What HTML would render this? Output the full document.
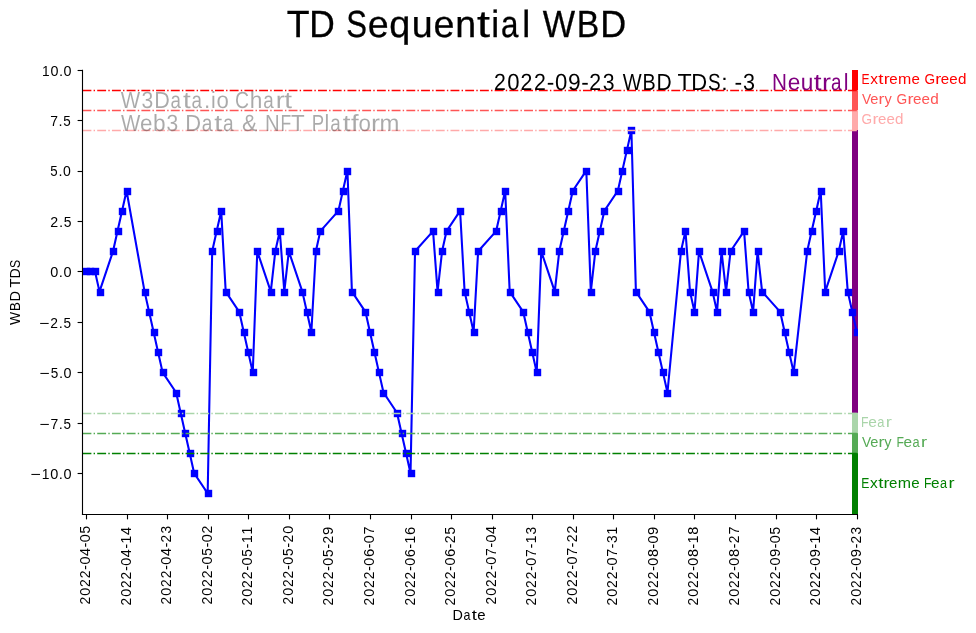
<!DOCTYPE html><html><head><meta charset="utf-8"><style>html,body{margin:0;padding:0;background:#fff}svg{display:block;will-change:transform}text{font-family:"Liberation Sans",sans-serif}.g{text-rendering:geometricPrecision}</style></head><body>
<svg width="976" height="633" viewBox="0 0 976 633">
<rect width="976" height="633" fill="#fff"/>
<text class="g" transform="translate(286.86,37) scale(0.987,1)" font-size="37.8" fill="#000" stroke="#000" stroke-width="0.3">T</text>
<text class="g" transform="translate(309.14,37) scale(0.936,1)" font-size="37.8" fill="#000" stroke="#000" stroke-width="0.3">D</text>
<text class="g" transform="translate(346.29,37) scale(0.822,1)" font-size="37.8" fill="#000" stroke="#000" stroke-width="0.3">S</text>
<text class="g" transform="translate(367.86,37) scale(0.996,1)" font-size="37.8" fill="#000" stroke="#000" stroke-width="0.3">e</text>
<text class="g" transform="translate(389.32,37) scale(1.001,1)" font-size="37.8" fill="#000" stroke="#000" stroke-width="0.3">q</text>
<text class="g" transform="translate(411.64,37) scale(0.994,1)" font-size="37.8" fill="#000" stroke="#000" stroke-width="0.3">u</text>
<text class="g" transform="translate(433.54,37) scale(0.996,1)" font-size="37.8" fill="#000" stroke="#000" stroke-width="0.3">e</text>
<text class="g" transform="translate(455.33,37) scale(0.994,1)" font-size="37.8" fill="#000" stroke="#000" stroke-width="0.3">n</text>
<text class="g" transform="translate(476.99,37) scale(1.233,1)" font-size="37.8" fill="#000" stroke="#000" stroke-width="0.3">t</text>
<text class="g" transform="translate(491.33,37) scale(0.943,1)" font-size="37.8" fill="#000" stroke="#000" stroke-width="0.3">i</text>
<text class="g" transform="translate(500.88,37) scale(0.829,1)" font-size="37.8" fill="#000" stroke="#000" stroke-width="0.3">a</text>
<text class="g" transform="translate(522.37,37) scale(0.943,1)" font-size="37.8" fill="#000" stroke="#000" stroke-width="0.3">l</text>
<text class="g" transform="translate(542.65,37) scale(0.906,1)" font-size="37.8" fill="#000" stroke="#000" stroke-width="0.3">W</text>
<text class="g" transform="translate(576.63,37) scale(0.893,1)" font-size="37.8" fill="#000" stroke="#000" stroke-width="0.3">B</text>
<text class="g" transform="translate(600.27,37) scale(0.951,1)" font-size="37.8" fill="#000" stroke="#000" stroke-width="0.3">D</text>
<rect x="852" y="70.00" width="6" height="20.40" fill="#ff0000"/>
<rect x="852" y="90.40" width="6" height="20.00" fill="#ff5555"/>
<rect x="852" y="110.40" width="6" height="19.60" fill="#ffaaaa"/>
<rect x="852" y="130.00" width="6" height="282.90" fill="#800080"/>
<rect x="852" y="412.90" width="6" height="20.20" fill="#aad5aa"/>
<rect x="852" y="433.10" width="6" height="20.00" fill="#55aa55"/>
<rect x="852" y="453.10" width="6" height="60.90" fill="#008000"/>
<defs><clipPath id="ax"><rect x="82.5" y="70.0" width="775.5" height="444.5"/></clipPath></defs>
<g clip-path="url(#ax)"><polyline points="85.98,271.46 90.49,271.46 95.00,271.46 99.50,291.64 113.03,251.28 117.53,231.10 122.04,210.92 126.55,190.74 144.58,291.64 149.09,311.82 153.59,332.00 158.10,352.18 162.61,372.36 176.13,392.54 180.64,412.72 185.15,432.90 189.65,453.08 194.16,473.26 207.68,493.44 212.19,251.28 216.70,231.10 221.21,210.92 225.71,291.64 239.24,311.82 243.74,332.00 248.25,352.18 252.76,372.36 257.27,251.28 270.79,291.64 275.30,251.28 279.80,231.10 284.31,291.64 288.82,251.28 302.34,291.64 306.85,311.82 311.36,332.00 315.86,251.28 320.37,231.10 338.40,210.92 342.91,190.74 347.42,170.56 351.92,291.64 365.45,311.82 369.95,332.00 374.46,352.18 378.97,372.36 383.48,392.54 397.00,412.72 401.51,432.90 406.01,453.08 410.52,473.26 415.03,251.28 433.06,231.10 437.57,291.64 442.07,251.28 446.58,231.10 460.10,210.92 464.61,291.64 469.12,311.82 473.63,332.00 478.13,251.28 496.16,231.10 500.67,210.92 505.18,190.74 509.69,291.64 523.21,311.82 527.72,332.00 532.22,352.18 536.73,372.36 541.24,251.28 554.76,291.64 559.27,251.28 563.78,231.10 568.28,210.92 572.79,190.74 586.31,170.56 590.82,291.64 595.33,251.28 599.84,231.10 604.34,210.92 617.87,190.74 622.37,170.56 626.88,150.38 631.39,130.20 635.90,291.64 649.42,311.82 653.93,332.00 658.43,352.18 662.94,372.36 667.45,392.54 680.97,251.28 685.48,231.10 689.99,291.64 694.49,311.82 699.00,251.28 712.52,291.64 717.03,311.82 721.54,251.28 726.05,291.64 730.55,251.28 744.08,231.10 748.58,291.64 753.09,311.82 757.60,251.28 762.11,291.64 780.14,311.82 784.64,332.00 789.15,352.18 793.66,372.36 807.18,251.28 811.69,231.10 816.20,210.92 820.70,190.74 825.21,291.64 838.73,251.28 843.24,231.10 847.75,291.64 852.26,311.82 856.76,332.00" fill="none" stroke="#0000ff" stroke-width="2.08" stroke-linejoin="round"/>
<rect x="82.80" y="267.80" width="7.4" height="7.4" fill="#0000ff"/>
<rect x="86.80" y="267.80" width="7.4" height="7.4" fill="#0000ff"/>
<rect x="91.80" y="267.80" width="7.4" height="7.4" fill="#0000ff"/>
<rect x="96.80" y="288.80" width="7.4" height="7.4" fill="#0000ff"/>
<rect x="109.80" y="247.80" width="7.4" height="7.4" fill="#0000ff"/>
<rect x="114.80" y="227.80" width="7.4" height="7.4" fill="#0000ff"/>
<rect x="118.80" y="207.80" width="7.4" height="7.4" fill="#0000ff"/>
<rect x="123.80" y="187.80" width="7.4" height="7.4" fill="#0000ff"/>
<rect x="141.80" y="288.80" width="7.4" height="7.4" fill="#0000ff"/>
<rect x="145.80" y="308.80" width="7.4" height="7.4" fill="#0000ff"/>
<rect x="150.80" y="328.80" width="7.4" height="7.4" fill="#0000ff"/>
<rect x="154.80" y="348.80" width="7.4" height="7.4" fill="#0000ff"/>
<rect x="159.80" y="368.80" width="7.4" height="7.4" fill="#0000ff"/>
<rect x="172.80" y="389.80" width="7.4" height="7.4" fill="#0000ff"/>
<rect x="177.80" y="409.80" width="7.4" height="7.4" fill="#0000ff"/>
<rect x="181.80" y="429.80" width="7.4" height="7.4" fill="#0000ff"/>
<rect x="186.80" y="449.80" width="7.4" height="7.4" fill="#0000ff"/>
<rect x="190.80" y="469.80" width="7.4" height="7.4" fill="#0000ff"/>
<rect x="204.80" y="489.80" width="7.4" height="7.4" fill="#0000ff"/>
<rect x="208.80" y="247.80" width="7.4" height="7.4" fill="#0000ff"/>
<rect x="213.80" y="227.80" width="7.4" height="7.4" fill="#0000ff"/>
<rect x="217.80" y="207.80" width="7.4" height="7.4" fill="#0000ff"/>
<rect x="222.80" y="288.80" width="7.4" height="7.4" fill="#0000ff"/>
<rect x="235.80" y="308.80" width="7.4" height="7.4" fill="#0000ff"/>
<rect x="240.80" y="328.80" width="7.4" height="7.4" fill="#0000ff"/>
<rect x="244.80" y="348.80" width="7.4" height="7.4" fill="#0000ff"/>
<rect x="249.80" y="368.80" width="7.4" height="7.4" fill="#0000ff"/>
<rect x="253.80" y="247.80" width="7.4" height="7.4" fill="#0000ff"/>
<rect x="267.80" y="288.80" width="7.4" height="7.4" fill="#0000ff"/>
<rect x="271.80" y="247.80" width="7.4" height="7.4" fill="#0000ff"/>
<rect x="276.80" y="227.80" width="7.4" height="7.4" fill="#0000ff"/>
<rect x="280.80" y="288.80" width="7.4" height="7.4" fill="#0000ff"/>
<rect x="285.80" y="247.80" width="7.4" height="7.4" fill="#0000ff"/>
<rect x="298.80" y="288.80" width="7.4" height="7.4" fill="#0000ff"/>
<rect x="303.80" y="308.80" width="7.4" height="7.4" fill="#0000ff"/>
<rect x="307.80" y="328.80" width="7.4" height="7.4" fill="#0000ff"/>
<rect x="312.80" y="247.80" width="7.4" height="7.4" fill="#0000ff"/>
<rect x="316.80" y="227.80" width="7.4" height="7.4" fill="#0000ff"/>
<rect x="334.80" y="207.80" width="7.4" height="7.4" fill="#0000ff"/>
<rect x="339.80" y="187.80" width="7.4" height="7.4" fill="#0000ff"/>
<rect x="343.80" y="167.80" width="7.4" height="7.4" fill="#0000ff"/>
<rect x="348.80" y="288.80" width="7.4" height="7.4" fill="#0000ff"/>
<rect x="361.80" y="308.80" width="7.4" height="7.4" fill="#0000ff"/>
<rect x="366.80" y="328.80" width="7.4" height="7.4" fill="#0000ff"/>
<rect x="370.80" y="348.80" width="7.4" height="7.4" fill="#0000ff"/>
<rect x="375.80" y="368.80" width="7.4" height="7.4" fill="#0000ff"/>
<rect x="379.80" y="389.80" width="7.4" height="7.4" fill="#0000ff"/>
<rect x="393.80" y="409.80" width="7.4" height="7.4" fill="#0000ff"/>
<rect x="398.80" y="429.80" width="7.4" height="7.4" fill="#0000ff"/>
<rect x="402.80" y="449.80" width="7.4" height="7.4" fill="#0000ff"/>
<rect x="407.80" y="469.80" width="7.4" height="7.4" fill="#0000ff"/>
<rect x="411.80" y="247.80" width="7.4" height="7.4" fill="#0000ff"/>
<rect x="429.80" y="227.80" width="7.4" height="7.4" fill="#0000ff"/>
<rect x="434.80" y="288.80" width="7.4" height="7.4" fill="#0000ff"/>
<rect x="438.80" y="247.80" width="7.4" height="7.4" fill="#0000ff"/>
<rect x="443.80" y="227.80" width="7.4" height="7.4" fill="#0000ff"/>
<rect x="456.80" y="207.80" width="7.4" height="7.4" fill="#0000ff"/>
<rect x="461.80" y="288.80" width="7.4" height="7.4" fill="#0000ff"/>
<rect x="465.80" y="308.80" width="7.4" height="7.4" fill="#0000ff"/>
<rect x="470.80" y="328.80" width="7.4" height="7.4" fill="#0000ff"/>
<rect x="474.80" y="247.80" width="7.4" height="7.4" fill="#0000ff"/>
<rect x="492.80" y="227.80" width="7.4" height="7.4" fill="#0000ff"/>
<rect x="497.80" y="207.80" width="7.4" height="7.4" fill="#0000ff"/>
<rect x="501.80" y="187.80" width="7.4" height="7.4" fill="#0000ff"/>
<rect x="506.80" y="288.80" width="7.4" height="7.4" fill="#0000ff"/>
<rect x="519.80" y="308.80" width="7.4" height="7.4" fill="#0000ff"/>
<rect x="524.80" y="328.80" width="7.4" height="7.4" fill="#0000ff"/>
<rect x="528.80" y="348.80" width="7.4" height="7.4" fill="#0000ff"/>
<rect x="533.80" y="368.80" width="7.4" height="7.4" fill="#0000ff"/>
<rect x="537.80" y="247.80" width="7.4" height="7.4" fill="#0000ff"/>
<rect x="551.80" y="288.80" width="7.4" height="7.4" fill="#0000ff"/>
<rect x="555.80" y="247.80" width="7.4" height="7.4" fill="#0000ff"/>
<rect x="560.80" y="227.80" width="7.4" height="7.4" fill="#0000ff"/>
<rect x="564.80" y="207.80" width="7.4" height="7.4" fill="#0000ff"/>
<rect x="569.80" y="187.80" width="7.4" height="7.4" fill="#0000ff"/>
<rect x="582.80" y="167.80" width="7.4" height="7.4" fill="#0000ff"/>
<rect x="587.80" y="288.80" width="7.4" height="7.4" fill="#0000ff"/>
<rect x="591.80" y="247.80" width="7.4" height="7.4" fill="#0000ff"/>
<rect x="596.80" y="227.80" width="7.4" height="7.4" fill="#0000ff"/>
<rect x="600.80" y="207.80" width="7.4" height="7.4" fill="#0000ff"/>
<rect x="614.80" y="187.80" width="7.4" height="7.4" fill="#0000ff"/>
<rect x="618.80" y="167.80" width="7.4" height="7.4" fill="#0000ff"/>
<rect x="623.80" y="146.80" width="7.4" height="7.4" fill="#0000ff"/>
<rect x="627.80" y="126.80" width="7.4" height="7.4" fill="#0000ff"/>
<rect x="632.80" y="288.80" width="7.4" height="7.4" fill="#0000ff"/>
<rect x="645.80" y="308.80" width="7.4" height="7.4" fill="#0000ff"/>
<rect x="650.80" y="328.80" width="7.4" height="7.4" fill="#0000ff"/>
<rect x="654.80" y="348.80" width="7.4" height="7.4" fill="#0000ff"/>
<rect x="659.80" y="368.80" width="7.4" height="7.4" fill="#0000ff"/>
<rect x="663.80" y="389.80" width="7.4" height="7.4" fill="#0000ff"/>
<rect x="677.80" y="247.80" width="7.4" height="7.4" fill="#0000ff"/>
<rect x="681.80" y="227.80" width="7.4" height="7.4" fill="#0000ff"/>
<rect x="686.80" y="288.80" width="7.4" height="7.4" fill="#0000ff"/>
<rect x="690.80" y="308.80" width="7.4" height="7.4" fill="#0000ff"/>
<rect x="695.80" y="247.80" width="7.4" height="7.4" fill="#0000ff"/>
<rect x="709.80" y="288.80" width="7.4" height="7.4" fill="#0000ff"/>
<rect x="713.80" y="308.80" width="7.4" height="7.4" fill="#0000ff"/>
<rect x="718.80" y="247.80" width="7.4" height="7.4" fill="#0000ff"/>
<rect x="722.80" y="288.80" width="7.4" height="7.4" fill="#0000ff"/>
<rect x="727.80" y="247.80" width="7.4" height="7.4" fill="#0000ff"/>
<rect x="740.80" y="227.80" width="7.4" height="7.4" fill="#0000ff"/>
<rect x="745.80" y="288.80" width="7.4" height="7.4" fill="#0000ff"/>
<rect x="749.80" y="308.80" width="7.4" height="7.4" fill="#0000ff"/>
<rect x="754.80" y="247.80" width="7.4" height="7.4" fill="#0000ff"/>
<rect x="758.80" y="288.80" width="7.4" height="7.4" fill="#0000ff"/>
<rect x="776.80" y="308.80" width="7.4" height="7.4" fill="#0000ff"/>
<rect x="781.80" y="328.80" width="7.4" height="7.4" fill="#0000ff"/>
<rect x="785.80" y="348.80" width="7.4" height="7.4" fill="#0000ff"/>
<rect x="790.80" y="368.80" width="7.4" height="7.4" fill="#0000ff"/>
<rect x="803.80" y="247.80" width="7.4" height="7.4" fill="#0000ff"/>
<rect x="808.80" y="227.80" width="7.4" height="7.4" fill="#0000ff"/>
<rect x="812.80" y="207.80" width="7.4" height="7.4" fill="#0000ff"/>
<rect x="817.80" y="187.80" width="7.4" height="7.4" fill="#0000ff"/>
<rect x="821.80" y="288.80" width="7.4" height="7.4" fill="#0000ff"/>
<rect x="835.80" y="247.80" width="7.4" height="7.4" fill="#0000ff"/>
<rect x="839.80" y="227.80" width="7.4" height="7.4" fill="#0000ff"/>
<rect x="844.80" y="288.80" width="7.4" height="7.4" fill="#0000ff"/>
<rect x="848.80" y="308.80" width="7.4" height="7.4" fill="#0000ff"/>
<rect x="853.80" y="328.80" width="7.4" height="7.4" fill="#0000ff"/>
</g>
<line x1="82.5" x2="858.0" y1="90.50" y2="90.50" stroke="#ff0000" stroke-width="1.39" stroke-dasharray="8.89 2.22 1.39 2.22"/>
<line x1="82.5" x2="858.0" y1="110.50" y2="110.50" stroke="#ff5555" stroke-width="1.39" stroke-dasharray="8.89 2.22 1.39 2.22"/>
<line x1="82.5" x2="858.0" y1="130.50" y2="130.50" stroke="#ffaaaa" stroke-width="1.39" stroke-dasharray="8.89 2.22 1.39 2.22"/>
<line x1="82.5" x2="858.0" y1="413.50" y2="413.50" stroke="#aad5aa" stroke-width="1.39" stroke-dasharray="8.89 2.22 1.39 2.22"/>
<line x1="82.5" x2="858.0" y1="433.50" y2="433.50" stroke="#55aa55" stroke-width="1.39" stroke-dasharray="8.89 2.22 1.39 2.22"/>
<line x1="82.5" x2="858.0" y1="453.50" y2="453.50" stroke="#008000" stroke-width="1.39" stroke-dasharray="8.89 2.22 1.39 2.22"/>
<text class="g" transform="translate(120.71,108) scale(0.879,1)" font-size="23.4" fill="#000" fill-opacity="0.333">W</text>
<text class="g" transform="translate(141.53,108) scale(0.903,1)" font-size="23.4" fill="#000" fill-opacity="0.333">3</text>
<text class="g" transform="translate(154.29,108) scale(0.923,1)" font-size="23.4" fill="#000" fill-opacity="0.333">D</text>
<text class="g" transform="translate(170.54,108) scale(0.802,1)" font-size="23.4" fill="#000" fill-opacity="0.333">a</text>
<text class="g" transform="translate(183.01,108) scale(1.192,1)" font-size="23.4" fill="#000" fill-opacity="0.333">t</text>
<text class="g" transform="translate(191.51,108) scale(0.802,1)" font-size="23.4" fill="#000" fill-opacity="0.333">a</text>
<text class="g" transform="translate(204.01,108) scale(0.965,1)" font-size="23.4" fill="#000" fill-opacity="0.333">.</text>
<text class="g" transform="translate(211.02,108) scale(0.912,1)" font-size="23.4" fill="#000" fill-opacity="0.333">i</text>
<text class="g" transform="translate(216.49,108) scale(0.948,1)" font-size="23.4" fill="#000" fill-opacity="0.333">o</text>
<text class="g" transform="translate(235.11,108) scale(0.830,1)" font-size="23.4" fill="#000" fill-opacity="0.333">C</text>
<text class="g" transform="translate(249.85,108) scale(0.970,1)" font-size="23.4" fill="#000" fill-opacity="0.333">h</text>
<text class="g" transform="translate(263.24,108) scale(0.804,1)" font-size="23.4" fill="#000" fill-opacity="0.333">a</text>
<text class="g" transform="translate(275.72,108) scale(1.145,1)" font-size="23.4" fill="#000" fill-opacity="0.333">r</text>
<text class="g" transform="translate(284.34,108) scale(1.195,1)" font-size="23.4" fill="#000" fill-opacity="0.333">t</text>
<text class="g" transform="translate(121.01,131) scale(0.876,1)" font-size="23.4" fill="#000" fill-opacity="0.333">W</text>
<text class="g" transform="translate(139.94,131) scale(0.960,1)" font-size="23.4" fill="#000" fill-opacity="0.333">e</text>
<text class="g" transform="translate(152.97,131) scale(0.967,1)" font-size="23.4" fill="#000" fill-opacity="0.333">b</text>
<text class="g" transform="translate(166.52,131) scale(0.899,1)" font-size="23.4" fill="#000" fill-opacity="0.333">3</text>
<text class="g" transform="translate(185.20,131) scale(0.937,1)" font-size="23.4" fill="#000" fill-opacity="0.333">D</text>
<text class="g" transform="translate(201.70,131) scale(0.814,1)" font-size="23.4" fill="#000" fill-opacity="0.333">a</text>
<text class="g" transform="translate(214.37,131) scale(1.211,1)" font-size="23.4" fill="#000" fill-opacity="0.333">t</text>
<text class="g" transform="translate(223.00,131) scale(0.814,1)" font-size="23.4" fill="#000" fill-opacity="0.333">a</text>
<text class="g" transform="translate(242.00,131) scale(0.978,1)" font-size="23.4" fill="#000" fill-opacity="0.333">&amp;</text>
<text class="g" transform="translate(265.04,131) scale(0.867,1)" font-size="23.4" fill="#000" fill-opacity="0.333">N</text>
<text class="g" transform="translate(280.62,131) scale(0.752,1)" font-size="23.4" fill="#000" fill-opacity="0.333">F</text>
<text class="g" transform="translate(290.93,131) scale(0.957,1)" font-size="23.4" fill="#000" fill-opacity="0.333">T</text>
<text class="g" transform="translate(311.78,131) scale(0.793,1)" font-size="23.4" fill="#000" fill-opacity="0.333">P</text>
<text class="g" transform="translate(324.42,131) scale(0.916,1)" font-size="23.4" fill="#000" fill-opacity="0.333">l</text>
<text class="g" transform="translate(330.17,131) scale(0.806,1)" font-size="23.4" fill="#000" fill-opacity="0.333">a</text>
<text class="g" transform="translate(342.70,131) scale(1.198,1)" font-size="23.4" fill="#000" fill-opacity="0.333">t</text>
<text class="g" transform="translate(350.88,131) scale(1.177,1)" font-size="23.4" fill="#000" fill-opacity="0.333">f</text>
<text class="g" transform="translate(358.39,131) scale(0.953,1)" font-size="23.4" fill="#000" fill-opacity="0.333">o</text>
<text class="g" transform="translate(371.12,131) scale(1.148,1)" font-size="23.4" fill="#000" fill-opacity="0.333">r</text>
<text class="g" transform="translate(379.57,131) scale(1.021,1)" font-size="23.4" fill="#000" fill-opacity="0.333">m</text>
<text class="g" transform="translate(493.93,90) scale(0.911,1)" font-size="23.4" fill="#000">2</text>
<text class="g" transform="translate(507.33,90) scale(0.945,1)" font-size="23.4" fill="#000">0</text>
<text class="g" transform="translate(520.62,90) scale(0.911,1)" font-size="23.4" fill="#000">2</text>
<text class="g" transform="translate(533.97,90) scale(0.911,1)" font-size="23.4" fill="#000">2</text>
<text class="g" transform="translate(546.87,90) scale(0.966,1)" font-size="23.4" fill="#000">-</text>
<text class="g" transform="translate(554.94,90) scale(0.945,1)" font-size="23.4" fill="#000">0</text>
<text class="g" transform="translate(568.02,90) scale(0.976,1)" font-size="23.4" fill="#000">9</text>
<text class="g" transform="translate(581.14,90) scale(0.966,1)" font-size="23.4" fill="#000">-</text>
<text class="g" transform="translate(589.15,90) scale(0.911,1)" font-size="23.4" fill="#000">2</text>
<text class="g" transform="translate(602.82,90) scale(0.908,1)" font-size="23.4" fill="#000">3</text>
<text class="g" transform="translate(622.71,90) scale(0.856,1)" font-size="23.4" fill="#000">W</text>
<text class="g" transform="translate(642.59,90) scale(0.844,1)" font-size="23.4" fill="#000">B</text>
<text class="g" transform="translate(656.42,90) scale(0.898,1)" font-size="23.4" fill="#000">D</text>
<text class="g" transform="translate(677.48,90) scale(0.991,1)" font-size="23.4" fill="#000">T</text>
<text class="g" transform="translate(691.33,90) scale(0.940,1)" font-size="23.4" fill="#000">D</text>
<text class="g" transform="translate(707.96,90) scale(0.810,1)" font-size="23.4" fill="#000">S</text>
<text class="g" transform="translate(721.31,90) scale(0.983,1)" font-size="23.4" fill="#000">:</text>
<text class="g" transform="translate(734.58,90) scale(0.982,1)" font-size="23.4" fill="#000">-</text>
<text class="g" transform="translate(743.05,90) scale(0.922,1)" font-size="23.4" fill="#000">3</text>
<text class="g" transform="translate(772.10,90) scale(0.885,1)" font-size="23.4" fill="#800080">N</text>
<text class="g" transform="translate(787.63,90) scale(0.968,1)" font-size="23.4" fill="#800080">e</text>
<text class="g" transform="translate(800.65,90) scale(0.967,1)" font-size="23.4" fill="#800080">u</text>
<text class="g" transform="translate(813.77,90) scale(1.198,1)" font-size="23.4" fill="#800080">t</text>
<text class="g" transform="translate(821.98,90) scale(1.149,1)" font-size="23.4" fill="#800080">r</text>
<text class="g" transform="translate(830.94,90) scale(0.806,1)" font-size="23.4" fill="#800080">a</text>
<text class="g" transform="translate(843.87,90) scale(0.916,1)" font-size="23.4" fill="#800080">l</text>
<text transform="translate(861.51,84) scale(0.829,1)" font-size="14.6" fill="#ff0000">E</text>
<text transform="translate(870.19,84) scale(1.062,1)" font-size="14.6" fill="#ff0000">x</text>
<text transform="translate(878.32,84) scale(1.279,1)" font-size="14.6" fill="#ff0000">t</text>
<text transform="translate(883.78,84) scale(1.226,1)" font-size="14.6" fill="#ff0000">r</text>
<text transform="translate(889.27,84) scale(1.034,1)" font-size="14.6" fill="#ff0000">e</text>
<text transform="translate(897.95,84) scale(1.090,1)" font-size="14.6" fill="#ff0000">m</text>
<text transform="translate(911.48,84) scale(1.034,1)" font-size="14.6" fill="#ff0000">e</text>
<text transform="translate(924.41,84) scale(0.934,1)" font-size="14.6" fill="#ff0000">G</text>
<text transform="translate(935.23,84) scale(1.227,1)" font-size="14.6" fill="#ff0000">r</text>
<text transform="translate(940.72,84) scale(1.034,1)" font-size="14.6" fill="#ff0000">e</text>
<text transform="translate(949.32,84) scale(1.034,1)" font-size="14.6" fill="#ff0000">e</text>
<text transform="translate(957.93,84) scale(1.041,1)" font-size="14.6" fill="#ff0000">d</text>
<text transform="translate(862.04,104) scale(0.941,1)" font-size="14.6" fill="#ff5555">V</text>
<text transform="translate(870.33,104) scale(1.001,1)" font-size="14.6" fill="#ff5555">e</text>
<text transform="translate(878.61,104) scale(1.188,1)" font-size="14.6" fill="#ff5555">r</text>
<text transform="translate(884.46,104) scale(0.996,1)" font-size="14.6" fill="#ff5555">y</text>
<text transform="translate(896.51,104) scale(0.941,1)" font-size="14.6" fill="#ff5555">G</text>
<text transform="translate(907.41,104) scale(1.236,1)" font-size="14.6" fill="#ff5555">r</text>
<text transform="translate(912.94,104) scale(1.042,1)" font-size="14.6" fill="#ff5555">e</text>
<text transform="translate(921.60,104) scale(1.042,1)" font-size="14.6" fill="#ff5555">e</text>
<text transform="translate(930.27,104) scale(1.049,1)" font-size="14.6" fill="#ff5555">d</text>
<text transform="translate(861.62,124) scale(0.932,1)" font-size="14.6" fill="#ffaaaa">G</text>
<text transform="translate(872.40,124) scale(1.224,1)" font-size="14.6" fill="#ffaaaa">r</text>
<text transform="translate(877.88,124) scale(1.032,1)" font-size="14.6" fill="#ffaaaa">e</text>
<text transform="translate(886.46,124) scale(1.032,1)" font-size="14.6" fill="#ffaaaa">e</text>
<text transform="translate(895.05,124) scale(1.038,1)" font-size="14.6" fill="#ffaaaa">d</text>
<text transform="translate(860.99,427) scale(0.843,1)" font-size="14.6" fill="#aad5aa">F</text>
<text transform="translate(868.20,427) scale(1.062,1)" font-size="14.6" fill="#aad5aa">e</text>
<text transform="translate(877.21,427) scale(0.884,1)" font-size="14.6" fill="#aad5aa">a</text>
<text transform="translate(885.78,427) scale(1.260,1)" font-size="14.6" fill="#aad5aa">r</text>
<text transform="translate(861.94,447) scale(0.941,1)" font-size="14.6" fill="#55aa55">V</text>
<text transform="translate(870.23,447) scale(1.001,1)" font-size="14.6" fill="#55aa55">e</text>
<text transform="translate(878.51,447) scale(1.188,1)" font-size="14.6" fill="#55aa55">r</text>
<text transform="translate(884.36,447) scale(0.996,1)" font-size="14.6" fill="#55aa55">y</text>
<text transform="translate(896.40,447) scale(0.837,1)" font-size="14.6" fill="#55aa55">F</text>
<text transform="translate(903.56,447) scale(1.055,1)" font-size="14.6" fill="#55aa55">e</text>
<text transform="translate(912.51,447) scale(0.878,1)" font-size="14.6" fill="#55aa55">a</text>
<text transform="translate(921.02,447) scale(1.252,1)" font-size="14.6" fill="#55aa55">r</text>
<text transform="translate(861.30,488) scale(0.831,1)" font-size="14.6" fill="#008000">E</text>
<text transform="translate(870.00,488) scale(1.063,1)" font-size="14.6" fill="#008000">x</text>
<text transform="translate(878.15,488) scale(1.281,1)" font-size="14.6" fill="#008000">t</text>
<text transform="translate(883.62,488) scale(1.228,1)" font-size="14.6" fill="#008000">r</text>
<text transform="translate(889.12,488) scale(1.035,1)" font-size="14.6" fill="#008000">e</text>
<text transform="translate(897.81,488) scale(1.092,1)" font-size="14.6" fill="#008000">m</text>
<text transform="translate(911.36,488) scale(1.035,1)" font-size="14.6" fill="#008000">e</text>
<text transform="translate(924.00,488) scale(0.832,1)" font-size="14.6" fill="#008000">F</text>
<text transform="translate(931.11,488) scale(1.048,1)" font-size="14.6" fill="#008000">e</text>
<text transform="translate(940.01,488) scale(0.872,1)" font-size="14.6" fill="#008000">a</text>
<text transform="translate(948.46,488) scale(1.243,1)" font-size="14.6" fill="#008000">r</text>
<line x1="82.5" x2="82.5" y1="69.7" y2="515.05" stroke="#000" stroke-width="1.11"/>
<line x1="81.95" x2="858.0" y1="514.5" y2="514.5" stroke="#000" stroke-width="1.11"/>
<line x1="77.6" x2="82.5" y1="70.50" y2="70.50" stroke="#000" stroke-width="1.11"/>
<text transform="translate(42.06,76) scale(0.958,1)" font-size="14.3" fill="#000">1</text>
<text transform="translate(50.60,76) scale(1.003,1)" font-size="14.3" fill="#000">0</text>
<text transform="translate(59.03,76) scale(1.030,1)" font-size="14.3" fill="#000">.</text>
<text transform="translate(63.58,76) scale(1.003,1)" font-size="14.3" fill="#000">0</text>
<line x1="77.6" x2="82.5" y1="120.50" y2="120.50" stroke="#000" stroke-width="1.11"/>
<text transform="translate(50.19,126) scale(0.974,1)" font-size="14.3" fill="#000">7</text>
<text transform="translate(58.50,126) scale(1.022,1)" font-size="14.3" fill="#000">.</text>
<text transform="translate(63.19,126) scale(0.940,1)" font-size="14.3" fill="#000">5</text>
<line x1="77.6" x2="82.5" y1="171.50" y2="171.50" stroke="#000" stroke-width="1.11"/>
<text transform="translate(50.37,176) scale(0.928,1)" font-size="14.3" fill="#000">5</text>
<text transform="translate(58.47,176) scale(1.009,1)" font-size="14.3" fill="#000">.</text>
<text transform="translate(62.93,176) scale(0.983,1)" font-size="14.3" fill="#000">0</text>
<line x1="77.6" x2="82.5" y1="221.50" y2="221.50" stroke="#000" stroke-width="1.11"/>
<text transform="translate(50.19,227) scale(0.994,1)" font-size="14.3" fill="#000">2</text>
<text transform="translate(58.89,227) scale(1.059,1)" font-size="14.3" fill="#000">.</text>
<text transform="translate(63.74,227) scale(0.973,1)" font-size="14.3" fill="#000">5</text>
<line x1="77.6" x2="82.5" y1="271.50" y2="271.50" stroke="#000" stroke-width="1.11"/>
<text transform="translate(50.34,277) scale(1.011,1)" font-size="14.3" fill="#000">0</text>
<text transform="translate(58.83,277) scale(1.038,1)" font-size="14.3" fill="#000">.</text>
<text transform="translate(63.42,277) scale(1.011,1)" font-size="14.3" fill="#000">0</text>
<line x1="77.6" x2="82.5" y1="322.50" y2="322.50" stroke="#000" stroke-width="1.11"/>
<text transform="translate(39.03,328) scale(1.230,1)" font-size="14.3" fill="#000">−</text>
<text transform="translate(50.19,328) scale(0.970,1)" font-size="14.3" fill="#000">2</text>
<text transform="translate(58.68,328) scale(1.033,1)" font-size="14.3" fill="#000">.</text>
<text transform="translate(63.42,328) scale(0.949,1)" font-size="14.3" fill="#000">5</text>
<line x1="77.6" x2="82.5" y1="372.50" y2="372.50" stroke="#000" stroke-width="1.11"/>
<text transform="translate(39.34,378) scale(1.226,1)" font-size="14.3" fill="#000">−</text>
<text transform="translate(50.67,378) scale(0.947,1)" font-size="14.3" fill="#000">5</text>
<text transform="translate(58.93,378) scale(1.030,1)" font-size="14.3" fill="#000">.</text>
<text transform="translate(63.48,378) scale(1.003,1)" font-size="14.3" fill="#000">0</text>
<line x1="77.6" x2="82.5" y1="423.50" y2="423.50" stroke="#000" stroke-width="1.11"/>
<text transform="translate(39.34,429) scale(1.222,1)" font-size="14.3" fill="#000">−</text>
<text transform="translate(50.52,429) scale(0.978,1)" font-size="14.3" fill="#000">7</text>
<text transform="translate(58.86,429) scale(1.026,1)" font-size="14.3" fill="#000">.</text>
<text transform="translate(63.56,429) scale(0.943,1)" font-size="14.3" fill="#000">5</text>
<line x1="77.6" x2="82.5" y1="473.50" y2="473.50" stroke="#000" stroke-width="1.11"/>
<text transform="translate(30.23,479) scale(1.240,1)" font-size="14.3" fill="#000">−</text>
<text transform="translate(41.63,479) scale(0.969,1)" font-size="14.3" fill="#000">1</text>
<text transform="translate(50.27,479) scale(1.014,1)" font-size="14.3" fill="#000">0</text>
<text transform="translate(58.80,479) scale(1.041,1)" font-size="14.3" fill="#000">.</text>
<text transform="translate(63.40,479) scale(1.014,1)" font-size="14.3" fill="#000">0</text>
<line x1="86.50" x2="86.50" y1="514.5" y2="519.36" stroke="#000" stroke-width="1.11"/>
<text transform="translate(90.0,604.40) rotate(-90) scale(0.993,1)" font-size="14.0" fill="#000">2</text>
<text transform="translate(90.0,595.66) rotate(-90) scale(1.030,1)" font-size="14.0" fill="#000">0</text>
<text transform="translate(90.0,586.99) rotate(-90) scale(0.993,1)" font-size="14.0" fill="#000">2</text>
<text transform="translate(90.0,578.29) rotate(-90) scale(0.993,1)" font-size="14.0" fill="#000">2</text>
<text transform="translate(90.0,569.88) rotate(-90) scale(1.053,1)" font-size="14.0" fill="#000">-</text>
<text transform="translate(90.0,564.61) rotate(-90) scale(1.030,1)" font-size="14.0" fill="#000">0</text>
<text transform="translate(90.0,555.91) rotate(-90) scale(1.030,1)" font-size="14.0" fill="#000">4</text>
<text transform="translate(90.0,547.53) rotate(-90) scale(1.053,1)" font-size="14.0" fill="#000">-</text>
<text transform="translate(90.0,542.27) rotate(-90) scale(1.030,1)" font-size="14.0" fill="#000">0</text>
<text transform="translate(90.0,533.40) rotate(-90) scale(0.972,1)" font-size="14.0" fill="#000">5</text>
<line x1="127.50" x2="127.50" y1="514.5" y2="519.36" stroke="#000" stroke-width="1.11"/>
<text transform="translate(131.0,605.40) rotate(-90) scale(0.987,1)" font-size="14.0" fill="#000">2</text>
<text transform="translate(131.0,596.70) rotate(-90) scale(1.024,1)" font-size="14.0" fill="#000">0</text>
<text transform="translate(131.0,588.08) rotate(-90) scale(0.987,1)" font-size="14.0" fill="#000">2</text>
<text transform="translate(131.0,579.43) rotate(-90) scale(0.987,1)" font-size="14.0" fill="#000">2</text>
<text transform="translate(131.0,571.06) rotate(-90) scale(1.048,1)" font-size="14.0" fill="#000">-</text>
<text transform="translate(131.0,565.83) rotate(-90) scale(1.024,1)" font-size="14.0" fill="#000">0</text>
<text transform="translate(131.0,557.18) rotate(-90) scale(1.024,1)" font-size="14.0" fill="#000">4</text>
<text transform="translate(131.0,548.84) rotate(-90) scale(1.048,1)" font-size="14.0" fill="#000">-</text>
<text transform="translate(131.0,543.50) rotate(-90) scale(0.978,1)" font-size="14.0" fill="#000">1</text>
<text transform="translate(131.0,534.96) rotate(-90) scale(1.024,1)" font-size="14.0" fill="#000">4</text>
<line x1="167.50" x2="167.50" y1="514.5" y2="519.36" stroke="#000" stroke-width="1.11"/>
<text transform="translate(171.0,604.40) rotate(-90) scale(0.992,1)" font-size="14.0" fill="#000">2</text>
<text transform="translate(171.0,595.67) rotate(-90) scale(1.029,1)" font-size="14.0" fill="#000">0</text>
<text transform="translate(171.0,587.01) rotate(-90) scale(0.992,1)" font-size="14.0" fill="#000">2</text>
<text transform="translate(171.0,578.32) rotate(-90) scale(0.992,1)" font-size="14.0" fill="#000">2</text>
<text transform="translate(171.0,569.92) rotate(-90) scale(1.052,1)" font-size="14.0" fill="#000">-</text>
<text transform="translate(171.0,564.67) rotate(-90) scale(1.029,1)" font-size="14.0" fill="#000">0</text>
<text transform="translate(171.0,555.97) rotate(-90) scale(1.029,1)" font-size="14.0" fill="#000">4</text>
<text transform="translate(171.0,547.61) rotate(-90) scale(1.052,1)" font-size="14.0" fill="#000">-</text>
<text transform="translate(171.0,542.39) rotate(-90) scale(0.992,1)" font-size="14.0" fill="#000">2</text>
<text transform="translate(171.0,533.48) rotate(-90) scale(0.988,1)" font-size="14.0" fill="#000">3</text>
<line x1="208.50" x2="208.50" y1="514.5" y2="519.36" stroke="#000" stroke-width="1.11"/>
<text transform="translate(212.0,604.40) rotate(-90) scale(0.995,1)" font-size="14.0" fill="#000">2</text>
<text transform="translate(212.0,595.64) rotate(-90) scale(1.032,1)" font-size="14.0" fill="#000">0</text>
<text transform="translate(212.0,586.96) rotate(-90) scale(0.995,1)" font-size="14.0" fill="#000">2</text>
<text transform="translate(212.0,578.23) rotate(-90) scale(0.995,1)" font-size="14.0" fill="#000">2</text>
<text transform="translate(212.0,569.80) rotate(-90) scale(1.056,1)" font-size="14.0" fill="#000">-</text>
<text transform="translate(212.0,564.53) rotate(-90) scale(1.032,1)" font-size="14.0" fill="#000">0</text>
<text transform="translate(212.0,555.63) rotate(-90) scale(0.974,1)" font-size="14.0" fill="#000">5</text>
<text transform="translate(212.0,547.41) rotate(-90) scale(1.056,1)" font-size="14.0" fill="#000">-</text>
<text transform="translate(212.0,542.13) rotate(-90) scale(1.032,1)" font-size="14.0" fill="#000">0</text>
<text transform="translate(212.0,533.45) rotate(-90) scale(0.995,1)" font-size="14.0" fill="#000">2</text>
<line x1="248.50" x2="248.50" y1="514.5" y2="519.36" stroke="#000" stroke-width="1.11"/>
<text transform="translate(252.0,605.40) rotate(-90) scale(0.994,1)" font-size="14.0" fill="#000">2</text>
<text transform="translate(252.0,596.65) rotate(-90) scale(1.031,1)" font-size="14.0" fill="#000">0</text>
<text transform="translate(252.0,587.98) rotate(-90) scale(0.994,1)" font-size="14.0" fill="#000">2</text>
<text transform="translate(252.0,579.27) rotate(-90) scale(0.994,1)" font-size="14.0" fill="#000">2</text>
<text transform="translate(252.0,570.85) rotate(-90) scale(1.054,1)" font-size="14.0" fill="#000">-</text>
<text transform="translate(252.0,565.58) rotate(-90) scale(1.031,1)" font-size="14.0" fill="#000">0</text>
<text transform="translate(252.0,556.70) rotate(-90) scale(0.973,1)" font-size="14.0" fill="#000">5</text>
<text transform="translate(252.0,548.49) rotate(-90) scale(1.054,1)" font-size="14.0" fill="#000">-</text>
<text transform="translate(252.0,543.10) rotate(-90) scale(0.985,1)" font-size="14.0" fill="#000">1</text>
<text transform="translate(252.0,534.39) rotate(-90) scale(0.985,1)" font-size="14.0" fill="#000">1</text>
<line x1="289.50" x2="289.50" y1="514.5" y2="519.36" stroke="#000" stroke-width="1.11"/>
<text transform="translate(293.0,604.40) rotate(-90) scale(0.989,1)" font-size="14.0" fill="#000">2</text>
<text transform="translate(293.0,595.69) rotate(-90) scale(1.026,1)" font-size="14.0" fill="#000">0</text>
<text transform="translate(293.0,587.05) rotate(-90) scale(0.989,1)" font-size="14.0" fill="#000">2</text>
<text transform="translate(293.0,578.38) rotate(-90) scale(0.989,1)" font-size="14.0" fill="#000">2</text>
<text transform="translate(293.0,570.00) rotate(-90) scale(1.049,1)" font-size="14.0" fill="#000">-</text>
<text transform="translate(293.0,564.76) rotate(-90) scale(1.026,1)" font-size="14.0" fill="#000">0</text>
<text transform="translate(293.0,555.92) rotate(-90) scale(0.968,1)" font-size="14.0" fill="#000">5</text>
<text transform="translate(293.0,547.74) rotate(-90) scale(1.049,1)" font-size="14.0" fill="#000">-</text>
<text transform="translate(293.0,542.54) rotate(-90) scale(0.989,1)" font-size="14.0" fill="#000">2</text>
<text transform="translate(293.0,533.83) rotate(-90) scale(1.026,1)" font-size="14.0" fill="#000">0</text>
<line x1="329.50" x2="329.50" y1="514.5" y2="519.36" stroke="#000" stroke-width="1.11"/>
<text transform="translate(333.0,605.40) rotate(-90) scale(0.990,1)" font-size="14.0" fill="#000">2</text>
<text transform="translate(333.0,596.68) rotate(-90) scale(1.027,1)" font-size="14.0" fill="#000">0</text>
<text transform="translate(333.0,588.04) rotate(-90) scale(0.990,1)" font-size="14.0" fill="#000">2</text>
<text transform="translate(333.0,579.37) rotate(-90) scale(0.990,1)" font-size="14.0" fill="#000">2</text>
<text transform="translate(333.0,570.98) rotate(-90) scale(1.050,1)" font-size="14.0" fill="#000">-</text>
<text transform="translate(333.0,565.73) rotate(-90) scale(1.027,1)" font-size="14.0" fill="#000">0</text>
<text transform="translate(333.0,556.88) rotate(-90) scale(0.969,1)" font-size="14.0" fill="#000">5</text>
<text transform="translate(333.0,548.70) rotate(-90) scale(1.050,1)" font-size="14.0" fill="#000">-</text>
<text transform="translate(333.0,543.49) rotate(-90) scale(0.990,1)" font-size="14.0" fill="#000">2</text>
<text transform="translate(333.0,534.96) rotate(-90) scale(1.061,1)" font-size="14.0" fill="#000">9</text>
<line x1="370.50" x2="370.50" y1="514.5" y2="519.36" stroke="#000" stroke-width="1.11"/>
<text transform="translate(374.0,605.40) rotate(-90) scale(0.992,1)" font-size="14.0" fill="#000">2</text>
<text transform="translate(374.0,596.66) rotate(-90) scale(1.030,1)" font-size="14.0" fill="#000">0</text>
<text transform="translate(374.0,588.00) rotate(-90) scale(0.992,1)" font-size="14.0" fill="#000">2</text>
<text transform="translate(374.0,579.30) rotate(-90) scale(0.992,1)" font-size="14.0" fill="#000">2</text>
<text transform="translate(374.0,570.89) rotate(-90) scale(1.053,1)" font-size="14.0" fill="#000">-</text>
<text transform="translate(374.0,565.63) rotate(-90) scale(1.030,1)" font-size="14.0" fill="#000">0</text>
<text transform="translate(374.0,557.07) rotate(-90) scale(1.066,1)" font-size="14.0" fill="#000">6</text>
<text transform="translate(374.0,548.55) rotate(-90) scale(1.053,1)" font-size="14.0" fill="#000">-</text>
<text transform="translate(374.0,543.29) rotate(-90) scale(1.030,1)" font-size="14.0" fill="#000">0</text>
<text transform="translate(374.0,534.53) rotate(-90) scale(1.007,1)" font-size="14.0" fill="#000">7</text>
<line x1="411.50" x2="411.50" y1="514.5" y2="519.36" stroke="#000" stroke-width="1.11"/>
<text transform="translate(415.0,605.40) rotate(-90) scale(0.989,1)" font-size="14.0" fill="#000">2</text>
<text transform="translate(415.0,596.69) rotate(-90) scale(1.026,1)" font-size="14.0" fill="#000">0</text>
<text transform="translate(415.0,588.06) rotate(-90) scale(0.989,1)" font-size="14.0" fill="#000">2</text>
<text transform="translate(415.0,579.40) rotate(-90) scale(0.989,1)" font-size="14.0" fill="#000">2</text>
<text transform="translate(415.0,571.02) rotate(-90) scale(1.049,1)" font-size="14.0" fill="#000">-</text>
<text transform="translate(415.0,565.78) rotate(-90) scale(1.026,1)" font-size="14.0" fill="#000">0</text>
<text transform="translate(415.0,557.26) rotate(-90) scale(1.061,1)" font-size="14.0" fill="#000">6</text>
<text transform="translate(415.0,548.78) rotate(-90) scale(1.049,1)" font-size="14.0" fill="#000">-</text>
<text transform="translate(415.0,543.42) rotate(-90) scale(0.979,1)" font-size="14.0" fill="#000">1</text>
<text transform="translate(415.0,535.01) rotate(-90) scale(1.061,1)" font-size="14.0" fill="#000">6</text>
<line x1="451.50" x2="451.50" y1="514.5" y2="519.36" stroke="#000" stroke-width="1.11"/>
<text transform="translate(455.0,605.40) rotate(-90) scale(0.993,1)" font-size="14.0" fill="#000">2</text>
<text transform="translate(455.0,596.66) rotate(-90) scale(1.030,1)" font-size="14.0" fill="#000">0</text>
<text transform="translate(455.0,587.99) rotate(-90) scale(0.993,1)" font-size="14.0" fill="#000">2</text>
<text transform="translate(455.0,579.29) rotate(-90) scale(0.993,1)" font-size="14.0" fill="#000">2</text>
<text transform="translate(455.0,570.88) rotate(-90) scale(1.053,1)" font-size="14.0" fill="#000">-</text>
<text transform="translate(455.0,565.61) rotate(-90) scale(1.030,1)" font-size="14.0" fill="#000">0</text>
<text transform="translate(455.0,557.05) rotate(-90) scale(1.066,1)" font-size="14.0" fill="#000">6</text>
<text transform="translate(455.0,548.53) rotate(-90) scale(1.053,1)" font-size="14.0" fill="#000">-</text>
<text transform="translate(455.0,543.31) rotate(-90) scale(0.993,1)" font-size="14.0" fill="#000">2</text>
<text transform="translate(455.0,534.40) rotate(-90) scale(0.972,1)" font-size="14.0" fill="#000">5</text>
<line x1="492.50" x2="492.50" y1="514.5" y2="519.36" stroke="#000" stroke-width="1.11"/>
<text transform="translate(496.0,604.40) rotate(-90) scale(0.987,1)" font-size="14.0" fill="#000">2</text>
<text transform="translate(496.0,595.70) rotate(-90) scale(1.024,1)" font-size="14.0" fill="#000">0</text>
<text transform="translate(496.0,587.08) rotate(-90) scale(0.987,1)" font-size="14.0" fill="#000">2</text>
<text transform="translate(496.0,578.43) rotate(-90) scale(0.987,1)" font-size="14.0" fill="#000">2</text>
<text transform="translate(496.0,570.06) rotate(-90) scale(1.048,1)" font-size="14.0" fill="#000">-</text>
<text transform="translate(496.0,564.83) rotate(-90) scale(1.024,1)" font-size="14.0" fill="#000">0</text>
<text transform="translate(496.0,556.11) rotate(-90) scale(1.002,1)" font-size="14.0" fill="#000">7</text>
<text transform="translate(496.0,547.84) rotate(-90) scale(1.048,1)" font-size="14.0" fill="#000">-</text>
<text transform="translate(496.0,542.61) rotate(-90) scale(1.024,1)" font-size="14.0" fill="#000">0</text>
<text transform="translate(496.0,533.96) rotate(-90) scale(1.024,1)" font-size="14.0" fill="#000">4</text>
<line x1="532.50" x2="532.50" y1="514.5" y2="519.36" stroke="#000" stroke-width="1.11"/>
<text transform="translate(536.0,605.40) rotate(-90) scale(0.992,1)" font-size="14.0" fill="#000">2</text>
<text transform="translate(536.0,596.67) rotate(-90) scale(1.029,1)" font-size="14.0" fill="#000">0</text>
<text transform="translate(536.0,588.01) rotate(-90) scale(0.992,1)" font-size="14.0" fill="#000">2</text>
<text transform="translate(536.0,579.32) rotate(-90) scale(0.992,1)" font-size="14.0" fill="#000">2</text>
<text transform="translate(536.0,570.92) rotate(-90) scale(1.052,1)" font-size="14.0" fill="#000">-</text>
<text transform="translate(536.0,565.67) rotate(-90) scale(1.029,1)" font-size="14.0" fill="#000">0</text>
<text transform="translate(536.0,556.91) rotate(-90) scale(1.006,1)" font-size="14.0" fill="#000">7</text>
<text transform="translate(536.0,548.61) rotate(-90) scale(1.052,1)" font-size="14.0" fill="#000">-</text>
<text transform="translate(536.0,543.24) rotate(-90) scale(0.982,1)" font-size="14.0" fill="#000">1</text>
<text transform="translate(536.0,534.48) rotate(-90) scale(0.988,1)" font-size="14.0" fill="#000">3</text>
<line x1="573.50" x2="573.50" y1="514.5" y2="519.36" stroke="#000" stroke-width="1.11"/>
<text transform="translate(577.0,604.40) rotate(-90) scale(0.995,1)" font-size="14.0" fill="#000">2</text>
<text transform="translate(577.0,595.64) rotate(-90) scale(1.032,1)" font-size="14.0" fill="#000">0</text>
<text transform="translate(577.0,586.96) rotate(-90) scale(0.995,1)" font-size="14.0" fill="#000">2</text>
<text transform="translate(577.0,578.23) rotate(-90) scale(0.995,1)" font-size="14.0" fill="#000">2</text>
<text transform="translate(577.0,569.80) rotate(-90) scale(1.056,1)" font-size="14.0" fill="#000">-</text>
<text transform="translate(577.0,564.53) rotate(-90) scale(1.032,1)" font-size="14.0" fill="#000">0</text>
<text transform="translate(577.0,555.74) rotate(-90) scale(1.010,1)" font-size="14.0" fill="#000">7</text>
<text transform="translate(577.0,547.41) rotate(-90) scale(1.056,1)" font-size="14.0" fill="#000">-</text>
<text transform="translate(577.0,542.17) rotate(-90) scale(0.995,1)" font-size="14.0" fill="#000">2</text>
<text transform="translate(577.0,533.45) rotate(-90) scale(0.995,1)" font-size="14.0" fill="#000">2</text>
<line x1="613.50" x2="613.50" y1="514.5" y2="519.36" stroke="#000" stroke-width="1.11"/>
<text transform="translate(617.0,605.40) rotate(-90) scale(0.994,1)" font-size="14.0" fill="#000">2</text>
<text transform="translate(617.0,596.65) rotate(-90) scale(1.031,1)" font-size="14.0" fill="#000">0</text>
<text transform="translate(617.0,587.98) rotate(-90) scale(0.994,1)" font-size="14.0" fill="#000">2</text>
<text transform="translate(617.0,579.27) rotate(-90) scale(0.994,1)" font-size="14.0" fill="#000">2</text>
<text transform="translate(617.0,570.85) rotate(-90) scale(1.054,1)" font-size="14.0" fill="#000">-</text>
<text transform="translate(617.0,565.58) rotate(-90) scale(1.031,1)" font-size="14.0" fill="#000">0</text>
<text transform="translate(617.0,556.81) rotate(-90) scale(1.008,1)" font-size="14.0" fill="#000">7</text>
<text transform="translate(617.0,548.49) rotate(-90) scale(1.054,1)" font-size="14.0" fill="#000">-</text>
<text transform="translate(617.0,543.04) rotate(-90) scale(0.990,1)" font-size="14.0" fill="#000">3</text>
<text transform="translate(617.0,534.39) rotate(-90) scale(0.985,1)" font-size="14.0" fill="#000">1</text>
<line x1="654.50" x2="654.50" y1="514.5" y2="519.36" stroke="#000" stroke-width="1.11"/>
<text transform="translate(658.0,605.40) rotate(-90) scale(0.990,1)" font-size="14.0" fill="#000">2</text>
<text transform="translate(658.0,596.68) rotate(-90) scale(1.027,1)" font-size="14.0" fill="#000">0</text>
<text transform="translate(658.0,588.04) rotate(-90) scale(0.990,1)" font-size="14.0" fill="#000">2</text>
<text transform="translate(658.0,579.37) rotate(-90) scale(0.990,1)" font-size="14.0" fill="#000">2</text>
<text transform="translate(658.0,570.98) rotate(-90) scale(1.050,1)" font-size="14.0" fill="#000">-</text>
<text transform="translate(658.0,565.73) rotate(-90) scale(1.027,1)" font-size="14.0" fill="#000">0</text>
<text transform="translate(658.0,557.10) rotate(-90) scale(1.038,1)" font-size="14.0" fill="#000">8</text>
<text transform="translate(658.0,548.70) rotate(-90) scale(1.050,1)" font-size="14.0" fill="#000">-</text>
<text transform="translate(658.0,543.46) rotate(-90) scale(1.027,1)" font-size="14.0" fill="#000">0</text>
<text transform="translate(658.0,534.96) rotate(-90) scale(1.061,1)" font-size="14.0" fill="#000">9</text>
<line x1="694.50" x2="694.50" y1="514.5" y2="519.36" stroke="#000" stroke-width="1.11"/>
<text transform="translate(698.0,605.40) rotate(-90) scale(0.989,1)" font-size="14.0" fill="#000">2</text>
<text transform="translate(698.0,596.69) rotate(-90) scale(1.027,1)" font-size="14.0" fill="#000">0</text>
<text transform="translate(698.0,588.05) rotate(-90) scale(0.989,1)" font-size="14.0" fill="#000">2</text>
<text transform="translate(698.0,579.37) rotate(-90) scale(0.989,1)" font-size="14.0" fill="#000">2</text>
<text transform="translate(698.0,570.99) rotate(-90) scale(1.050,1)" font-size="14.0" fill="#000">-</text>
<text transform="translate(698.0,565.75) rotate(-90) scale(1.027,1)" font-size="14.0" fill="#000">0</text>
<text transform="translate(698.0,557.12) rotate(-90) scale(1.038,1)" font-size="14.0" fill="#000">8</text>
<text transform="translate(698.0,548.72) rotate(-90) scale(1.050,1)" font-size="14.0" fill="#000">-</text>
<text transform="translate(698.0,543.36) rotate(-90) scale(0.980,1)" font-size="14.0" fill="#000">1</text>
<text transform="translate(698.0,534.85) rotate(-90) scale(1.038,1)" font-size="14.0" fill="#000">8</text>
<line x1="735.50" x2="735.50" y1="514.5" y2="519.36" stroke="#000" stroke-width="1.11"/>
<text transform="translate(739.0,605.40) rotate(-90) scale(0.992,1)" font-size="14.0" fill="#000">2</text>
<text transform="translate(739.0,596.66) rotate(-90) scale(1.030,1)" font-size="14.0" fill="#000">0</text>
<text transform="translate(739.0,588.00) rotate(-90) scale(0.992,1)" font-size="14.0" fill="#000">2</text>
<text transform="translate(739.0,579.30) rotate(-90) scale(0.992,1)" font-size="14.0" fill="#000">2</text>
<text transform="translate(739.0,570.89) rotate(-90) scale(1.053,1)" font-size="14.0" fill="#000">-</text>
<text transform="translate(739.0,565.63) rotate(-90) scale(1.030,1)" font-size="14.0" fill="#000">0</text>
<text transform="translate(739.0,556.97) rotate(-90) scale(1.041,1)" font-size="14.0" fill="#000">8</text>
<text transform="translate(739.0,548.55) rotate(-90) scale(1.053,1)" font-size="14.0" fill="#000">-</text>
<text transform="translate(739.0,543.33) rotate(-90) scale(0.992,1)" font-size="14.0" fill="#000">2</text>
<text transform="translate(739.0,534.53) rotate(-90) scale(1.007,1)" font-size="14.0" fill="#000">7</text>
<line x1="776.50" x2="776.50" y1="514.5" y2="519.36" stroke="#000" stroke-width="1.11"/>
<text transform="translate(780.0,605.40) rotate(-90) scale(0.993,1)" font-size="14.0" fill="#000">2</text>
<text transform="translate(780.0,596.66) rotate(-90) scale(1.030,1)" font-size="14.0" fill="#000">0</text>
<text transform="translate(780.0,587.99) rotate(-90) scale(0.993,1)" font-size="14.0" fill="#000">2</text>
<text transform="translate(780.0,579.29) rotate(-90) scale(0.993,1)" font-size="14.0" fill="#000">2</text>
<text transform="translate(780.0,570.88) rotate(-90) scale(1.053,1)" font-size="14.0" fill="#000">-</text>
<text transform="translate(780.0,565.61) rotate(-90) scale(1.030,1)" font-size="14.0" fill="#000">0</text>
<text transform="translate(780.0,557.09) rotate(-90) scale(1.064,1)" font-size="14.0" fill="#000">9</text>
<text transform="translate(780.0,548.53) rotate(-90) scale(1.053,1)" font-size="14.0" fill="#000">-</text>
<text transform="translate(780.0,543.27) rotate(-90) scale(1.030,1)" font-size="14.0" fill="#000">0</text>
<text transform="translate(780.0,534.40) rotate(-90) scale(0.972,1)" font-size="14.0" fill="#000">5</text>
<line x1="816.50" x2="816.50" y1="514.5" y2="519.36" stroke="#000" stroke-width="1.11"/>
<text transform="translate(820.0,605.40) rotate(-90) scale(0.987,1)" font-size="14.0" fill="#000">2</text>
<text transform="translate(820.0,596.70) rotate(-90) scale(1.024,1)" font-size="14.0" fill="#000">0</text>
<text transform="translate(820.0,588.08) rotate(-90) scale(0.987,1)" font-size="14.0" fill="#000">2</text>
<text transform="translate(820.0,579.43) rotate(-90) scale(0.987,1)" font-size="14.0" fill="#000">2</text>
<text transform="translate(820.0,571.06) rotate(-90) scale(1.048,1)" font-size="14.0" fill="#000">-</text>
<text transform="translate(820.0,565.83) rotate(-90) scale(1.024,1)" font-size="14.0" fill="#000">0</text>
<text transform="translate(820.0,557.35) rotate(-90) scale(1.058,1)" font-size="14.0" fill="#000">9</text>
<text transform="translate(820.0,548.84) rotate(-90) scale(1.048,1)" font-size="14.0" fill="#000">-</text>
<text transform="translate(820.0,543.50) rotate(-90) scale(0.978,1)" font-size="14.0" fill="#000">1</text>
<text transform="translate(820.0,534.96) rotate(-90) scale(1.024,1)" font-size="14.0" fill="#000">4</text>
<line x1="857.50" x2="857.50" y1="514.5" y2="519.36" stroke="#000" stroke-width="1.11"/>
<text transform="translate(861.0,605.40) rotate(-90) scale(0.992,1)" font-size="14.0" fill="#000">2</text>
<text transform="translate(861.0,596.67) rotate(-90) scale(1.029,1)" font-size="14.0" fill="#000">0</text>
<text transform="translate(861.0,588.01) rotate(-90) scale(0.992,1)" font-size="14.0" fill="#000">2</text>
<text transform="translate(861.0,579.32) rotate(-90) scale(0.992,1)" font-size="14.0" fill="#000">2</text>
<text transform="translate(861.0,570.92) rotate(-90) scale(1.052,1)" font-size="14.0" fill="#000">-</text>
<text transform="translate(861.0,565.67) rotate(-90) scale(1.029,1)" font-size="14.0" fill="#000">0</text>
<text transform="translate(861.0,557.15) rotate(-90) scale(1.062,1)" font-size="14.0" fill="#000">9</text>
<text transform="translate(861.0,548.61) rotate(-90) scale(1.052,1)" font-size="14.0" fill="#000">-</text>
<text transform="translate(861.0,543.39) rotate(-90) scale(0.992,1)" font-size="14.0" fill="#000">2</text>
<text transform="translate(861.0,534.48) rotate(-90) scale(0.988,1)" font-size="14.0" fill="#000">3</text>
<text transform="translate(452.62,620) scale(0.998,1)" font-size="14.4" fill="#000">D</text>
<text transform="translate(463.44,620) scale(0.867,1)" font-size="14.4" fill="#000">a</text>
<text transform="translate(471.74,620) scale(1.289,1)" font-size="14.4" fill="#000">t</text>
<text transform="translate(477.22,620) scale(1.042,1)" font-size="14.4" fill="#000">e</text>
<text transform="translate(20,324.96) rotate(-90) scale(0.980,1)" font-size="14.2" fill="#000">W</text>
<text transform="translate(20,311.15) rotate(-90) scale(0.966,1)" font-size="14.2" fill="#000">B</text>
<text transform="translate(20,301.55) rotate(-90) scale(1.028,1)" font-size="14.2" fill="#000">D</text>
<text transform="translate(20,287.54) rotate(-90) scale(1.053,1)" font-size="14.2" fill="#000">T</text>
<text transform="translate(20,278.61) rotate(-90) scale(0.999,1)" font-size="14.2" fill="#000">D</text>
<text transform="translate(20,267.89) rotate(-90) scale(0.860,1)" font-size="14.2" fill="#000">S</text>
</svg></body></html>
